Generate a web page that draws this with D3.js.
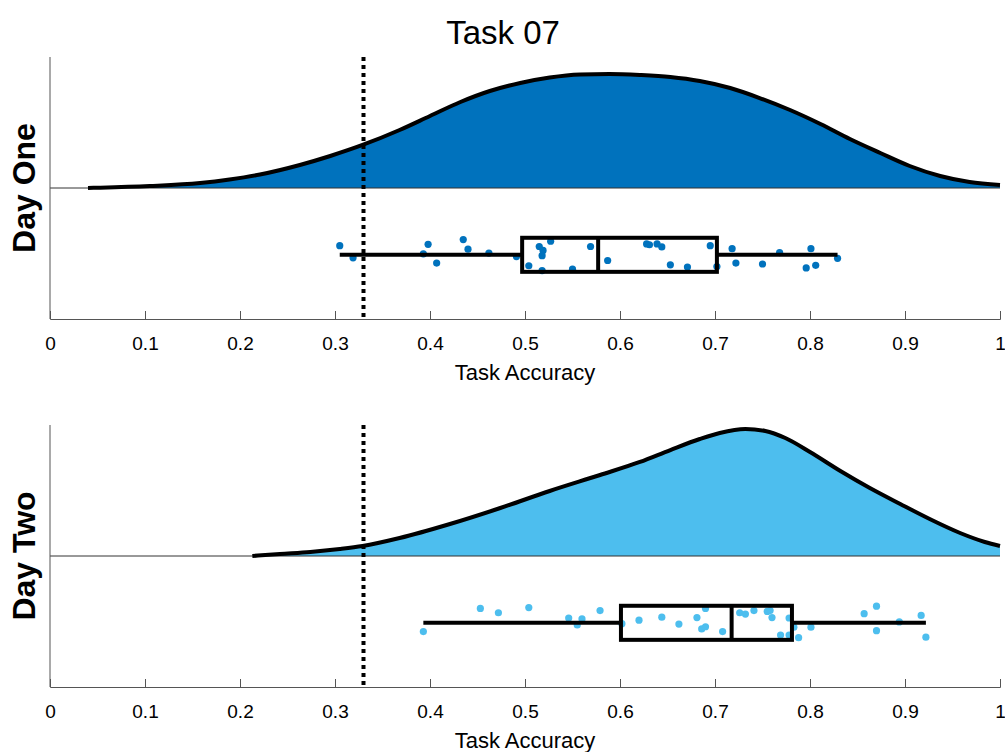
<!DOCTYPE html>
<html>
<head>
<meta charset="utf-8">
<script src="https://cdn.jsdelivr.net/npm/d3@7"></script>
<style>
  body { margin: 0; background: #fff; }
  text { font-family: "Liberation Sans", Arial, sans-serif; fill: #000; }
</style>
</head>
<body>
<svg id="chart" width="1005" height="752"></svg>
<script>
// chance level
const chanceLevel = 0.33;
const xTicks = [0, 0.1, 0.2, 0.3, 0.4, 0.5, 0.6, 0.7, 0.8, 0.9, 1];

// density curves
const dayOneDensX = [0.04, 0.053, 0.105, 0.158, 0.189, 0.221, 0.263, 0.295, 0.329, 0.368, 0.400, 0.432, 0.463, 0.495, 0.526, 0.558, 0.589, 0.621, 0.653, 0.684, 0.716, 0.747, 0.779, 0.811, 0.842, 0.874, 0.905, 0.937, 0.968, 1.0];
const dayOneDensY = [0, 0.007, 0.046, 0.115, 0.195, 0.309, 0.527, 0.733, 0.985, 1.328, 1.649, 1.969, 2.221, 2.405, 2.530, 2.599, 2.611, 2.588, 2.542, 2.450, 2.290, 2.061, 1.786, 1.466, 1.122, 0.802, 0.504, 0.275, 0.137, 0.069];

const dayTwoDensX = [0.213, 0.242, 0.274, 0.305, 0.329, 0.368, 0.421, 0.474, 0.526, 0.579, 0.621, 0.653, 0.684, 0.705, 0.732, 0.753, 0.774, 0.800, 0.832, 0.863, 0.895, 0.926, 0.958, 0.984, 1.0];
const dayTwoDensY = [0, 0.046, 0.092, 0.160, 0.229, 0.412, 0.733, 1.099, 1.489, 1.855, 2.153, 2.427, 2.679, 2.817, 2.908, 2.863, 2.702, 2.382, 1.947, 1.557, 1.191, 0.847, 0.527, 0.321, 0.229];

// individual accuracies and their jitter
const dayOneAcc = [0.305, 0.319, 0.393, 0.398, 0.407, 0.435, 0.440, 0.462, 0.491, 0.504, 0.515, 0.519, 0.518, 0.527, 0.518, 0.550, 0.569, 0.587, 0.628, 0.631, 0.639, 0.644, 0.653, 0.671, 0.695, 0.702, 0.718, 0.722, 0.750, 0.768, 0.801, 0.796, 0.806, 0.829];
const dayOneJit = [0.21, -0.07, 0.02, 0.24, -0.19, 0.35, 0.13, 0.04, -0.04, -0.25, 0.19, 0.10, -0.02, 0.31, -0.36, -0.33, 0.19, -0.13, 0.25, 0.23, 0.25, 0.18, -0.23, -0.28, 0.21, -0.27, 0.14, -0.19, -0.21, 0.05, 0.14, -0.30, -0.24, -0.08];

const dayTwoAcc = [0.393, 0.453, 0.472, 0.504, 0.546, 0.555, 0.560, 0.579, 0.602, 0.620, 0.644, 0.662, 0.681, 0.690, 0.686, 0.690, 0.708, 0.726, 0.732, 0.741, 0.755, 0.758, 0.760, 0.778, 0.769, 0.778, 0.783, 0.788, 0.801, 0.857, 0.870, 0.870, 0.894, 0.917, 0.922];
const dayTwoJit = [-0.20, 0.33, 0.23, 0.35, 0.11, -0.05, 0.09, 0.28, -0.02, 0.06, 0.13, -0.03, 0.12, 0.33, -0.14, -0.09, -0.20, 0.23, 0.20, 0.28, 0.26, 0.28, 0.12, 0.11, -0.28, -0.28, -0.10, -0.34, -0.10, 0.21, 0.38, -0.18, 0.02, 0.17, -0.33];

// box stats [whiskerLo, q1, median, q3, whiskerHi]
const dayOneBox = [0.305, 0.497, 0.577, 0.702, 0.829];
const dayTwoBox = [0.393, 0.601, 0.7175, 0.781, 0.922];

const panels = [
    {label: "Day One", color: "#0072BD", dx: dayOneDensX, dy: dayOneDensY, acc: dayOneAcc, jit: dayOneJit, box: dayOneBox, top: 57},
    {label: "Day Two", color: "#4DBEEE", dx: dayTwoDensX, dy: dayTwoDensY, acc: dayTwoAcc, jit: dayTwoJit, box: dayTwoBox, top: 425}
];

const svg = d3.select("#chart");
const left = 50, right = 1000, ph = 262;
const boxLevel = -1.53, boxHalf = 0.39;

const x = d3.scaleLinear().domain([0, 1]).range([left, right]);

svg.append("text")
    .attr("x", 503).attr("y", 44)
    .attr("text-anchor", "middle")
    .attr("font-size", 33)
    .text("Task 07");

panels.forEach(p => {
    const g = svg.append("g");
    const y = d3.scaleLinear().domain([-3, 3]).range([p.top + ph, p.top]);
    const dens = p.dx.map((v, i) => [v, p.dy[i]]);

    g.append("path")
        .datum(dens)
        .attr("fill", p.color)
        .attr("d", d3.area().x(d => x(d[0])).y0(y(0)).y1(d => y(d[1])).curve(d3.curveMonotoneX));

    g.append("line")
        .attr("x1", left).attr("x2", right)
        .attr("y1", y(0)).attr("y2", y(0))
        .attr("stroke", "#333").attr("stroke-width", 1);

    g.append("path")
        .datum(dens)
        .attr("fill", "none")
        .attr("stroke", "#000")
        .attr("stroke-width", 4)
        .attr("d", d3.line().x(d => x(d[0])).y(d => y(d[1])).curve(d3.curveMonotoneX));

    // rain
    g.selectAll(".dot")
        .data(p.acc)
        .join("circle")
        .attr("class", "dot")
        .attr("cx", d => x(d))
        .attr("cy", (d, i) => y(boxLevel + p.jit[i]))
        .attr("r", 3.6)
        .attr("fill", p.color);

    // box and whiskers
    const b = p.box;
    g.append("line")
        .attr("x1", x(b[0])).attr("x2", x(b[1]))
        .attr("y1", y(boxLevel)).attr("y2", y(boxLevel))
        .attr("stroke", "#000").attr("stroke-width", 4);
    g.append("line")
        .attr("x1", x(b[3])).attr("x2", x(b[4]))
        .attr("y1", y(boxLevel)).attr("y2", y(boxLevel))
        .attr("stroke", "#000").attr("stroke-width", 4);
    g.append("rect")
        .attr("x", x(b[1])).attr("y", y(boxLevel + boxHalf))
        .attr("width", x(b[3]) - x(b[1]))
        .attr("height", y(boxLevel - boxHalf) - y(boxLevel + boxHalf))
        .attr("fill", "none").attr("stroke", "#000").attr("stroke-width", 4);
    g.append("line")
        .attr("x1", x(b[2])).attr("x2", x(b[2]))
        .attr("y1", y(boxLevel + boxHalf)).attr("y2", y(boxLevel - boxHalf))
        .attr("stroke", "#000").attr("stroke-width", 4);

    // chance line
    g.append("line")
        .attr("x1", x(chanceLevel)).attr("x2", x(chanceLevel))
        .attr("y1", p.top).attr("y2", p.top + ph)
        .attr("stroke", "#000").attr("stroke-width", 4)
        .attr("stroke-dasharray", "4,4");

    // axes
    const xAxis = d3.axisBottom(x).tickValues(xTicks).tickSize(-8).tickPadding(18)
        .tickFormat(d => d === 0 || d === 1 ? d3.format("d")(d) : d3.format(".1f")(d));
    const ax = g.append("g")
        .attr("transform", `translate(0,${p.top + ph})`)
        .call(xAxis);
    ax.select(".domain").attr("stroke", "#555");
    ax.selectAll(".tick line").attr("stroke", "#555");
    ax.selectAll(".tick text").attr("font-size", 19).attr("font-family", "Liberation Sans, Arial, sans-serif").attr("fill", "#222");

    g.append("line")
        .attr("x1", left).attr("x2", left)
        .attr("y1", p.top).attr("y2", p.top + ph)
        .attr("stroke", "#555").attr("stroke-width", 1);

    g.append("text")
        .attr("x", x(0.5)).attr("y", p.top + ph + 61)
        .attr("text-anchor", "middle")
        .attr("font-size", 22)
        .attr("fill", "#222")
        .text("Task Accuracy");

    g.append("text")
        .attr("transform", `translate(35,${y(0)}) rotate(-90)`)
        .attr("text-anchor", "middle")
        .attr("font-size", 32)
        .attr("font-weight", "bold")
        .attr("fill", "#222")
        .text(p.label);
});
</script>
</body>
</html>
